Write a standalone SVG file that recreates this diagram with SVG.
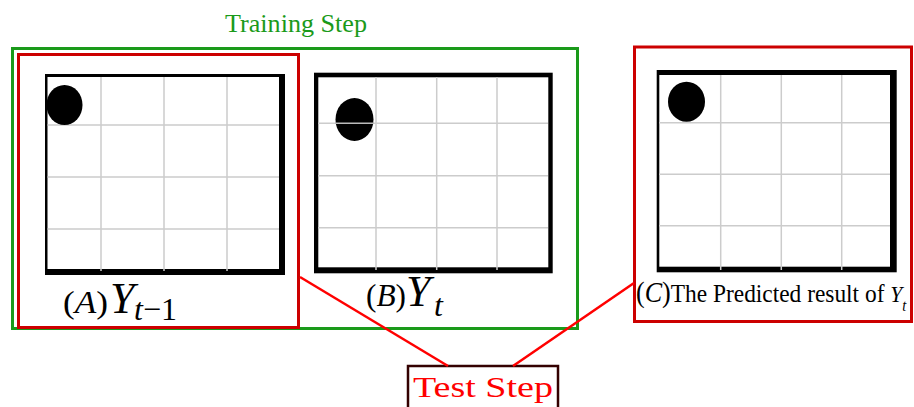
<svg xmlns="http://www.w3.org/2000/svg" width="914" height="407" viewBox="0 0 914 407">
<style>
.grid{stroke:#cccccc;stroke-width:1.5;fill:none}
.frame{fill:#000}
.inner{fill:#fff}
.ball{fill:#000}
.serif{font-family:"Liberation Serif","DejaVu Serif",serif}
.it{font-style:italic}
.redbox{fill:none;stroke:#cc0000;stroke-width:3}
.conn{stroke:#ff0000;stroke-width:2.5;fill:none}
</style>
<rect width="914" height="407" fill="#fff"/>
<g id="training-step">
<rect x="12.5" y="48.5" width="565" height="280" fill="none" stroke="#1a9a1a" stroke-width="3"/>
<text class="serif" x="225" y="32" font-size="26" fill="#1a9a1a" textLength="142" lengthAdjust="spacingAndGlyphs">Training Step</text>
</g>
<g id="panel-a">
<rect x="45" y="74" width="240" height="201" class="frame"/>
<rect x="47.5" y="77" width="231.5" height="192" class="inner"/>
<path class="grid" d="M101 77V271M164 77V271M227 77V271M47.5 125H279M47.5 177H279M47.5 229H279"/>
<ellipse cx="64.5" cy="105" rx="18" ry="20" class="ball"/>
<text class="serif" x="63" y="313" font-size="32" textLength="45" lengthAdjust="spacingAndGlyphs">(<tspan class="it">A</tspan>)</text>
<text class="serif it" x="110" y="313" font-size="44">Y</text>
<text class="serif" x="134" y="320" font-size="32"><tspan class="it">t</tspan>−1</text>
<rect x="18.5" y="54.5" width="280" height="273" class="redbox"/>
</g>
<g id="panel-b">
<rect x="314" y="72.7" width="238.7" height="200.6" class="frame"/>
<rect x="318.3" y="77.3" width="230" height="190" class="inner"/>
<path class="grid" d="M376 77V270M436.7 77V270M497 77V270M318 123.3H548M318 175.7H548M318 227.7H548"/>
<ellipse cx="354.5" cy="119.5" rx="19" ry="21.5" class="ball"/>
<line x1="335" y1="123.3" x2="374" y2="123.3" stroke="#bbbbbb" stroke-width="1.5"/>
<text class="serif" x="366" y="306" font-size="32" textLength="40" lengthAdjust="spacingAndGlyphs">(<tspan class="it">B</tspan>)</text>
<text class="serif it" x="406" y="306" font-size="44">Y</text>
<text class="serif it" x="434" y="316" font-size="32">t</text>
</g>
<g id="panel-c">
<rect x="656.7" y="70" width="240" height="202.3" class="frame"/>
<rect x="659.3" y="75" width="230.7" height="191.7" class="inner"/>
<path class="grid" d="M720.7 75V270M781.3 75V270M841.7 75V270M659 122.7H890M659 174.3H890M659 225.7H890"/>
<ellipse cx="686.5" cy="101.7" rx="18.5" ry="20" class="ball"/>
<rect x="634.5" y="47" width="277" height="274.5" class="redbox"/>
<text class="serif" font-size="26" transform="translate(636,302) scale(0.9,1)"><tspan font-size="29">(</tspan><tspan class="it" font-size="29">C</tspan><tspan font-size="29">)</tspan>The Predicted result of <tspan class="it" font-size="24">Y</tspan><tspan class="it" font-size="16" dy="9">t</tspan></text>
</g>
<g id="test-step">
<rect x="408" y="366" width="150" height="45" fill="#fff" stroke="#330000" stroke-width="2.5"/>
<text class="serif" x="413" y="397" font-size="30" fill="#ff0000" textLength="140" lengthAdjust="spacingAndGlyphs">Test Step</text>
</g>
<g id="connectors">
<line class="conn" x1="300" y1="277" x2="448" y2="366"/>
<line class="conn" x1="513" y1="366" x2="634" y2="283"/>
</g>
</svg>
